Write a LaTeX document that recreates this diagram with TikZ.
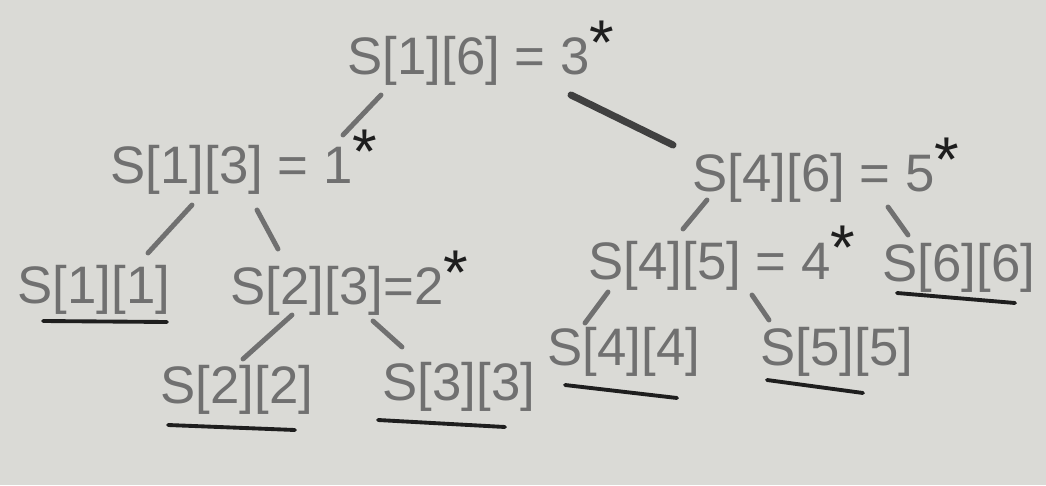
\documentclass[tikz,border=0pt]{standalone}
\usepackage{fontspec}
\setmainfont{Liberation Sans}
\usepackage{tikz}
\usetikzlibrary{calc}
\definecolor{paper}{RGB}{218,218,214}
\definecolor{pencil}{RGB}{112,112,112}
\definecolor{ink}{RGB}{30,30,30}
\newcommand{\hstar}{\raisebox{3pt}{\textcolor{ink}{\fontsize{18}{18}\selectfont *}}}

\begin{document}
\begin{tikzpicture}[
    x=0.01cm, y=-0.01cm,
    st/.style={inner sep=0pt, anchor=west, text=pencil,
               font=\fontsize{15}{18}\selectfont},
    edge/.style={draw=pencil, line width=1.4pt, line cap=round},
    uline/.style={draw=ink, line width=1.1pt, line cap=round},
]
\fill[paper] (0,0) rectangle (1046,485);

% the subproblems
\node[st] (root) at (347,53)  {S[1][6] = 3\hstar};
\node[st] (s13)  at (110,162) {S[1][3] = 1\hstar};
\node[st] (s46)  at (692,170) {S[4][6] = 5\hstar};
\node[st] (s11)  at (17,290)  {S[1][1]};
\node[st] (s23)  at (230,283) {S[2][3]=2\hstar};
\node[st] (s45)  at (588,258) {S[4][5] = 4\hstar};
\node[st] (s66)  at (882,268) {S[6][6]};
\node[st] (s22)  at (160,390) {S[2][2]};
\node[st] (s33)  at (382,387) {S[3][3]};
\node[st] (s44)  at (547,352) {S[4][4]};
\node[st] (s55)  at (760,352) {S[5][5]};

% tree edges
\draw[edge] ($(root.west)+(34,42)$) -- ($(s13.west)+(233,-27)$);
\draw[edge, draw=ink!85, line width=2pt] ($(root.west)+(224,42)$) -- ($(s46.west)+(-19,-25)$);
\draw[edge] ($(s13.west)+(82,43)$) -- ($(s11.west)+(131,-37)$);
\draw[edge] ($(s13.west)+(147,48)$) -- ($(s23.west)+(48,-34)$);
\draw[edge] ($(s23.west)+(62,32)$) -- ($(s22.west)+(83,-31)$);
\draw[edge] ($(s23.west)+(143,38)$) -- ($(s33.west)+(20,-40)$);
\draw[edge] ($(s46.west)+(15,30)$) -- ($(s45.west)+(95,-29)$);
\draw[edge] ($(s46.west)+(196,37)$) -- ($(s66.west)+(26,-33)$);
\draw[edge] ($(s45.west)+(20,34)$) -- ($(s44.west)+(38,-29)$);
\draw[edge] ($(s45.west)+(164,37)$) -- ($(s55.west)+(9,-32)$);

% base cases are underlined
\draw[uline] ($(s11.west)+(26,31)$) -- ($(s11.west)+(150,32)$);
\draw[uline] ($(s22.west)+(8,35)$) -- ($(s22.west)+(135,40)$);
\draw[uline] ($(s33.west)+(-4,33)$) -- ($(s33.west)+(123,40)$);
\draw[uline] ($(s44.west)+(18,33)$) -- ($(s44.west)+(130,46)$);
\draw[uline] ($(s55.west)+(7,28)$) -- ($(s55.west)+(103,41)$);
\draw[uline] ($(s66.west)+(15,25)$) -- ($(s66.west)+(133,35)$);
\end{tikzpicture}
\end{document}
